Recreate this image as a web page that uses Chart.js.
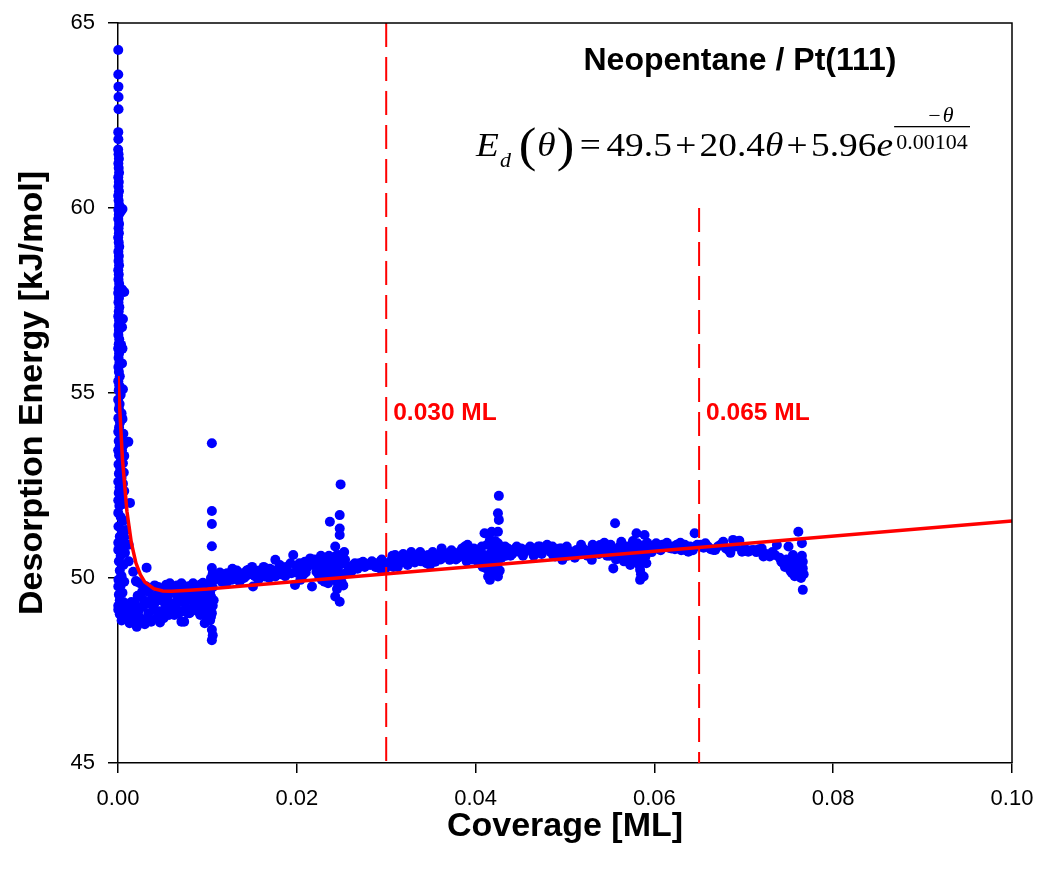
<!DOCTYPE html>
<html>
<head>
<meta charset="utf-8">
<title>Neopentane / Pt(111) desorption energy</title>
<script src="https://cdn.jsdelivr.net/npm/chart.js@4.4.1/dist/chart.umd.min.js"></script>
<style>
  html, body { margin: 0; padding: 0; background: #ffffff; }
  #wrap { width: 1039px; height: 875px; position: relative; background: #ffffff; }
  canvas { display: block; }
</style>
</head>
<body>
<div id="wrap"><canvas id="chart" width="1039" height="875"></canvas></div>
<script>
// ---- Axis ticks ----
const xTicks = [0, 0.02, 0.04, 0.06, 0.08, 0.10];
const xTickLabels = ['0.00', '0.02', '0.04', '0.06', '0.08', '0.10'];
const yTicks = [45, 50, 55, 60, 65];
const yTickLabels = ['45', '50', '55', '60', '65'];

// ---- Fitted curve E_d(θ) = 49.5 + 20.4θ + 5.96·exp(−θ/0.00104) ----
const fitCoverage = [0, 0.0005, 0.001, 0.0015, 0.002, 0.0025, 0.003, 0.004, 0.005, 0.006, 0.008, 0.010, 0.100];
const fitEnergy   = [55.46, 53.20, 51.80, 50.94, 50.41, 50.09, 49.89, 49.71, 49.65, 49.64, 49.67, 49.70, 51.54];

// ---- Coverage markers ----
const markerCoverage = [0.030, 0.065];
const markerTopEnergy = [65, 60];
const markerLabels = ['0.030 ML', '0.065 ML'];

// ---- Measured points [coverage (ML), desorption energy (kJ/mol)] ----
const pointsNearZero = [
  [0.00003,64.27],[0.00003,63.61],[0.00005,63.28],[0.00006,63.00],[0.00006,62.67],[0.00003,62.05],[0.00004,61.86],
  [0.00002,61.58],[0.00006,61.45],[0.00010,61.33],[0.00004,61.20],[0.00008,61.08],[0.00012,60.95],[0.00003,60.83],
  [0.00009,60.70],[0.00005,60.58],[0.00011,60.45],[0.00002,60.33],[0.00007,60.20],[0.00013,60.08],[0.00050,59.97],
  [0.00004,59.95],[0.00030,59.90],[0.00009,59.82],[0.00003,59.70],[0.00012,59.57],[0.00006,59.45],[0.00010,59.32],
  [0.00002,59.20],[0.00008,59.07],[0.00014,58.95],[0.00004,58.82],[0.00010,58.70],[0.00006,58.57],[0.00012,58.45],
  [0.00003,58.32],[0.00009,58.20],[0.00005,58.07],[0.00013,57.95],[0.00070,57.73],[0.00045,57.80],[0.00007,57.82],
  [0.00002,57.70],[0.00011,57.57],[0.00005,57.45],[0.00015,57.32],[0.00008,57.20],[0.00003,57.07],[0.00055,57.00],
  [0.00012,56.95],[0.00045,56.78],[0.00006,56.82],[0.00010,56.70],[0.00004,56.57],[0.00014,56.45],[0.00035,56.30],
  [0.00050,56.20],[0.00008,56.32],[0.00002,56.20],[0.00012,56.07],[0.00006,55.95],[0.00045,55.80],[0.00016,55.82],
  [0.00004,55.70],[0.00010,55.57],[0.00020,55.45],[0.00003,55.32],[0.00014,55.20],[0.00055,55.10],[0.00008,55.07],
  [0.00030,54.95],[0.00002,54.82],[0.00018,54.70],[0.00010,54.57],[0.00040,54.45],[0.00004,54.32],[0.00050,54.30],
  [0.00022,54.20],[0.00012,54.07],[0.00060,53.90],[0.00003,53.95],[0.00030,53.82],[0.00116,53.68],[0.00008,53.70],
  [0.00065,53.60],[0.00020,53.57],[0.00045,53.45],[0.00002,53.45],[0.00070,53.30],[0.00012,53.32],[0.00035,53.20],
  [0.00055,53.10],[0.00006,53.07],[0.00025,52.95],[0.00065,52.85],[0.00010,52.82],[0.00040,52.70],[0.00003,52.60],
  [0.00055,52.55],[0.00018,52.45],[0.00070,52.35],[0.00008,52.30],[0.00030,52.20],[0.00003,52.10],[0.00134,52.03],
  [0.00060,52.00],[0.00015,51.95],[0.00003,51.76],[0.00030,51.65],[0.00060,51.55],[0.00005,51.39],[0.00040,51.30],
  [0.00090,51.30],[0.00020,51.12],[0.00070,51.10],[0.00003,50.95],[0.00050,50.90],[0.00120,50.90],[0.00003,50.76],
  [0.00078,50.68],[0.00030,50.60],[0.00010,50.45],[0.00060,50.35],[0.00020,50.20],[0.00040,50.05],[0.00005,49.95],
  [0.00070,49.90],[0.00030,49.80],[0.00003,49.77],[0.00050,49.60],[0.00010,49.55],[0.00020,49.40],[0.00060,49.35],
  [0.00003,49.25],[0.00040,49.20],[0.00003,49.14],[0.00020,49.02],[0.00080,49.15],[0.00100,49.30],[0.00130,48.78],
  [0.00040,48.85],[0.00070,49.20],[0.00110,48.90],[0.00150,49.35]
];

const pointsMinimum = [
  [0.0017,50.17],[0.0021,49.90],[0.0019,49.32],[0.0012,50.45],[0.0032,50.28],
  [0.0020,49.92],[0.0025,49.85],[0.0031,49.78],[0.0036,49.72],[0.0041,49.80],[0.0045,49.76],[0.0050,49.70],
  [0.0054,49.82],[0.0058,49.86],[0.0062,49.72],[0.0066,49.80],[0.0071,49.86],[0.0075,49.70],[0.0079,49.78],
  [0.0084,49.86],[0.0088,49.74],[0.0092,49.82],[0.0095,49.87],[0.0099,49.78],[0.0102,49.85],[0.0107,49.95],
  [0.0022,49.52],[0.0027,49.63],[0.0034,49.63],[0.0038,49.45],[0.0044,49.55],[0.0048,49.40],[0.0051,49.40],
  [0.0056,49.52],[0.0060,49.32],[0.0064,49.58],[0.0067,49.45],[0.0072,49.35],[0.0077,49.50],[0.0081,49.40],
  [0.0086,49.22],[0.0090,49.55],[0.0093,49.45],[0.0095,49.32],[0.0099,49.60],[0.0101,49.38],[0.0104,49.50],
  [0.0106,49.25],
  [0.0006,48.91],[0.0009,49.00],[0.0017,48.85],[0.0021,48.68],[0.0024,48.80],[0.0027,49.22],[0.0030,48.75],
  [0.0034,49.05],[0.0037,48.82],[0.0041,49.14],[0.0044,48.95],[0.0047,48.80],[0.0051,48.91],[0.0055,49.10],
  [0.0063,49.00],[0.0071,49.09],[0.0071,48.82],[0.0074,48.82],[0.0080,49.05],[0.0086,49.22],[0.0092,49.00],
  [0.0097,48.78],[0.0100,49.10],[0.0105,49.05],[0.0105,48.60],[0.0105,48.32],[0.0106,48.45],[0.0103,48.85],
  [0.0014,49.20],[0.0016,49.05],[0.0019,48.95],[0.0023,49.10],[0.0026,48.90],[0.0029,49.40],[0.0032,49.30],
  [0.0035,48.90],[0.0039,49.25],[0.0042,49.35],[0.0046,49.10],[0.0049,49.60],[0.0053,49.25],[0.0057,49.00],
  [0.0059,49.62],[0.0061,49.15],[0.0065,49.25],[0.0068,49.05],[0.0069,49.62],[0.0073,49.58],[0.0076,49.20],
  [0.0078,49.05],[0.0082,49.60],[0.0083,49.15],[0.0085,49.45],[0.0088,49.30],[0.0089,49.10],[0.0091,49.70],
  [0.0094,49.15],[0.0096,49.55],[0.0098,49.00],[0.0100,49.70],[0.0102,49.20],[0.0103,49.60],[0.0104,48.95],
  [0.0106,49.75],[0.0107,49.40],
  [0.0105,53.64],[0.0105,51.81],[0.0105,51.46],[0.0105,50.86],[0.0105,50.27],[0.0106,50.13],[0.0104,50.00]
];

const pointsLow = [
  [0.0112,50.00],[0.0116,49.90],[0.0119,50.10],[0.0122,50.13],[0.0125,49.98],[0.0127,49.95],[0.0130,50.10],
  [0.0133,50.20],[0.0135,50.04],[0.0138,50.12],[0.0141,50.00],[0.0144,50.20],[0.0146,50.22],[0.0149,50.10],
  [0.0151,49.77],[0.0153,50.05],[0.0155,50.13],[0.0158,50.20],[0.0161,50.10],[0.0164,50.04],[0.0167,50.15],
  [0.0170,50.25],[0.0173,50.10],[0.0176,50.49],[0.0176,50.04],[0.0179,50.20],[0.0182,50.10],[0.0185,50.22],
  [0.0188,50.30],[0.0191,50.15],[0.0194,50.13],[0.0196,50.62],[0.0198,49.81],[0.0200,50.30],[0.0203,50.40],
  [0.0205,50.20],[0.0207,50.08],[0.0209,50.44],[0.0212,50.30],[0.0215,50.53],[0.0217,49.77],[0.0219,50.35],
  [0.0222,50.17],[0.0225,50.05],[0.0226,50.35],[0.0228,49.95],[0.0229,50.50],[0.0230,50.20],[0.0231,49.90],
  [0.0232,50.31],[0.0234,50.10],[0.0235,49.86],[0.0236,50.60],[0.0237,51.52],[0.0238,50.40],[0.0239,50.25],
  [0.0240,50.00],[0.0241,50.44],[0.0242,49.95],[0.0243,50.85],[0.0243,49.50],[0.0244,50.22],[0.0244,50.60],
  [0.0245,49.70],[0.0246,50.30],[0.0246,49.85],[0.0247,50.62],[0.0247,50.15],[0.0248,51.16],[0.0248,51.34],
  [0.0248,51.70],[0.0248,49.36],[0.0249,52.53],[0.0249,50.04],[0.0250,49.90],[0.0250,50.38],[0.0251,50.50],
  [0.0252,50.10],[0.0252,49.80],[0.0253,50.70],[0.0254,50.49],[0.0258,50.30],[0.0261,50.17],[0.0265,50.40],
  [0.0270,50.40],[0.0274,50.44],[0.0278,50.38],[0.0282,50.35],[0.0286,50.40],[0.0290,50.30],[0.0293,50.44],
  [0.0293,50.26],[0.0297,50.35],[0.0301,50.40],
  [0.0114,50.15],[0.0121,49.85],[0.0128,50.25],[0.0136,49.90],[0.0143,50.05],[0.0150,50.30],[0.0157,49.95],
  [0.0163,50.30],[0.0169,50.00],[0.0175,50.20],[0.0181,50.35],[0.0187,50.05],[0.0193,50.40],[0.0199,50.15],
  [0.0204,49.95],[0.0210,50.15],[0.0214,50.40],[0.0220,50.50],[0.0224,50.25],[0.0227,50.60],[0.0233,50.05],
  [0.0256,50.15],[0.0263,50.35],[0.0268,50.25],[0.0276,50.30],[0.0284,50.45],[0.0288,50.30],[0.0295,50.50],
  [0.0299,50.25]
];

const pointsMid = [
  [0.0304,50.35],[0.0306,50.49],[0.0308,50.30],[0.0310,50.62],[0.0312,50.40],[0.0315,50.40],[0.0318,50.50],
  [0.0321,50.44],[0.0324,50.35],[0.0326,50.55],[0.0329,50.53],[0.0332,50.42],[0.0336,50.58],[0.0339,50.45],
  [0.0342,50.49],[0.0345,50.40],[0.0347,50.62],[0.0350,50.50],[0.0353,50.58],[0.0355,50.44],[0.0358,50.62],
  [0.0361,50.50],[0.0363,50.66],[0.0366,50.67],[0.0369,50.55],[0.0371,50.49],[0.0374,50.60],[0.0377,50.67],
  [0.0380,50.55],[0.0383,50.72],[0.0386,50.58],[0.0388,50.85],[0.0390,50.45],[0.0392,50.65],[0.0394,50.71],
  [0.0396,50.50],[0.0399,50.62],[0.0401,50.76],[0.0403,50.40],[0.0405,50.60],[0.0407,50.85],[0.0408,50.30],
  [0.0410,51.21],[0.0410,50.62],[0.0411,50.45],[0.0412,50.26],[0.0413,50.90],[0.0414,50.04],[0.0415,50.50],
  [0.0416,51.03],[0.0416,49.95],[0.0417,50.35],[0.0418,51.25],[0.0418,50.71],[0.0419,50.17],[0.0420,50.80],
  [0.0421,50.53],[0.0422,51.00],[0.0422,50.10],[0.0423,50.60],[0.0424,50.30],[0.0425,51.25],[0.0425,50.94],
  [0.0425,50.67],[0.0425,50.44],[0.0425,50.04],[0.0425,51.75],[0.0426,51.57],[0.0426,52.22],[0.0427,50.20],
  [0.0428,50.85],[0.0429,50.55],[0.0431,50.71],[0.0434,50.60],[0.0436,50.80],[0.0438,50.76],[0.0441,50.65],
  [0.0444,50.75],[0.0448,50.71],[0.0451,50.80],[0.0455,50.70],[0.0459,50.78],[0.0463,50.76],[0.0467,50.70],
  [0.0470,50.85],[0.0472,50.85],[0.0476,50.75],[0.0478,50.82],[0.0481,50.80],[0.0484,50.70],[0.0487,50.60],
  [0.0489,50.58],[0.0492,50.75],[0.0494,50.80],[0.0497,50.65],
  [0.0307,50.60],[0.0313,50.30],[0.0319,50.65],[0.0323,50.50],[0.0328,50.70],[0.0334,50.50],[0.0338,50.70],
  [0.0344,50.60],[0.0349,50.35],[0.0352,50.70],[0.0357,50.50],[0.0362,50.80],[0.0368,50.65],[0.0373,50.75],
  [0.0378,50.50],[0.0382,50.60],[0.0385,50.80],[0.0391,50.90],[0.0395,50.55],[0.0398,50.80],[0.0402,50.65],
  [0.0406,50.50],[0.0433,50.85],[0.0439,50.60],[0.0446,50.85],[0.0453,50.60],[0.0461,50.85],[0.0465,50.60],
  [0.0474,50.65],[0.0480,50.90],[0.0486,50.85],[0.0491,50.60]
];

const pointsHigh = [
  [0.0496,50.80],[0.0497,50.49],[0.0500,50.70],[0.0503,50.60],[0.0506,50.71],[0.0509,50.65],[0.0513,50.76],
  [0.0516,50.68],[0.0520,50.80],[0.0523,50.70],[0.0526,50.65],[0.0528,50.76],[0.0530,50.49],[0.0533,50.72],
  [0.0536,50.80],[0.0539,50.89],[0.0542,50.75],[0.0545,50.70],[0.0548,50.80],[0.0550,50.60],[0.0552,50.75],
  [0.0554,50.26],[0.0556,51.48],[0.0557,50.50],[0.0558,50.70],[0.0560,50.53],[0.0561,50.85],[0.0563,50.98],
  [0.0565,50.60],[0.0567,50.75],[0.0569,50.85],[0.0570,50.45],[0.0572,50.62],[0.0573,50.35],[0.0575,50.90],
  [0.0577,50.70],[0.0578,50.50],[0.0580,51.21],[0.0581,50.94],[0.0582,50.71],[0.0583,50.53],[0.0583,50.35],
  [0.0584,50.22],[0.0584,49.95],[0.0585,50.10],[0.0586,50.80],[0.0587,50.60],[0.0588,50.04],[0.0589,51.16],
  [0.0589,50.89],[0.0590,50.58],[0.0591,50.40],[0.0593,50.75],[0.0596,50.85],[0.0599,50.80],[0.0602,50.94],
  [0.0605,50.85],[0.0609,50.90],[0.0612,50.89],[0.0616,50.82],[0.0619,50.80],[0.0623,50.78],[0.0627,50.85],
  [0.0630,50.75],[0.0632,50.80],[0.0635,50.75],[0.0638,50.71],[0.0641,50.80],[0.0645,51.21],[0.0646,50.85],
  [0.0648,50.90],
  [0.0502,50.85],[0.0511,50.55],[0.0518,50.90],[0.0525,50.60],[0.0531,50.90],[0.0538,50.65],[0.0544,50.95],
  [0.0547,50.60],[0.0551,50.90],[0.0566,50.45],[0.0571,50.80],[0.0576,51.00],[0.0592,50.95],[0.0597,50.70],
  [0.0603,50.80],[0.0607,50.75],[0.0614,50.95],[0.0621,50.85],[0.0625,50.90],[0.0629,50.95],[0.0634,50.90],
  [0.0640,50.85],[0.0643,50.75],
  [0.0652,50.90],[0.0655,50.82],[0.0657,50.94],[0.0660,50.85],[0.0663,50.78],[0.0666,50.76],[0.0668,50.76],
  [0.0671,50.85],[0.0674,50.90],[0.0677,50.98],[0.0680,50.80],[0.0683,50.75],[0.0685,50.68],[0.0688,51.03],
  [0.0691,50.85],[0.0695,51.01],[0.0698,50.71],[0.0701,50.80],[0.0705,50.71],[0.0708,50.75],[0.0711,50.76],
  [0.0714,50.70],[0.0717,50.78],[0.0720,50.80],[0.0722,50.58],[0.0725,50.65],[0.0729,50.58],[0.0732,50.70],
  [0.0735,50.62],[0.0737,50.89],[0.0740,50.55],[0.0742,50.44],[0.0744,50.40],[0.0746,50.30],[0.0748,50.50],
  [0.0750,50.85],[0.0750,50.31],[0.0752,50.20],[0.0754,50.13],[0.0755,50.62],[0.0756,50.40],[0.0757,50.05],
  [0.0758,50.25],[0.0760,50.50],[0.0761,51.25],[0.0762,50.15],[0.0763,50.35],[0.0764,50.00],[0.0765,50.94],
  [0.0765,50.60],[0.0766,50.44],[0.0766,50.26],[0.0766,49.68],[0.0767,50.10]
];

// ---- Fonts and colours ----
const SANS = '"Liberation Sans", Arial, Helvetica, sans-serif';
const SERIF = '"Liberation Serif", "Times New Roman", Times, serif';
const BLUE = '#0000ff';
const RED = '#ff0000';
const markerLabelEnergy = 54.45;

const measured = [].concat(pointsNearZero, pointsMinimum, pointsLow, pointsMid, pointsHigh)
  .map(p => ({ x: p[0], y: p[1] }));

const markerDatasets = markerCoverage.map((c, i) => ({
  label: markerLabels[i],
  data: [{ x: c, y: markerTopEnergy[i] }, { x: c, y: 45 }],
  showLine: true,
  borderColor: RED,
  borderWidth: 2,
  borderDash: [24, 10],
  pointRadius: 0,
  fill: false,
  order: 1
}));

// Plot frame on the top and right sides
const framePlugin = {
  id: 'frame',
  afterDraw(chart) {
    const { ctx, chartArea: a } = chart;
    ctx.save();
    ctx.strokeStyle = '#000';
    ctx.lineWidth = 1.5;
    ctx.beginPath();
    ctx.moveTo(a.left, a.top);
    ctx.lineTo(a.right, a.top);
    ctx.lineTo(a.right, a.bottom);
    ctx.stroke();
    ctx.restore();
  }
};

// Fit equation, laid out piece by piece and fitted between left and right
function drawEquation(ctx, left, right, baseline) {
  const big = 34, sub = 20, paren = 48, exp = 20;
  const pieces = [
    { t: 'E', f: 'italic ' + big + 'px ' + SERIF, dy: 0, gap: 0 },
    { t: 'd', f: 'italic ' + sub + 'px ' + SERIF, dy: 11, gap: 1 },
    { t: '(', f: paren + 'px ' + SERIF, dy: 5, gap: 7 },
    { t: 'θ', f: 'italic ' + big + 'px ' + SERIF, dy: 0, gap: 1 },
    { t: ')', f: paren + 'px ' + SERIF, dy: 5, gap: 1 },
    { t: '=', f: big + 'px ' + SERIF, dy: 0, gap: 5 },
    { t: '49.5', f: big + 'px ' + SERIF, dy: 0, gap: 5 },
    { t: '+', f: big + 'px ' + SERIF, dy: 0, gap: 3 },
    { t: '20.4', f: big + 'px ' + SERIF, dy: 0, gap: 3 },
    { t: 'θ', f: 'italic ' + big + 'px ' + SERIF, dy: 0, gap: 0 },
    { t: '+', f: big + 'px ' + SERIF, dy: 0, gap: 3 },
    { t: '5.96', f: big + 'px ' + SERIF, dy: 0, gap: 3 },
    { t: 'e', f: 'italic ' + big + 'px ' + SERIF, dy: 0, gap: 0 }
  ];
  ctx.save();
  let w = 0;
  pieces.forEach(p => { ctx.font = p.f; p.x = w + p.gap; w = p.x + ctx.measureText(p.t).width; });
  ctx.font = exp + 'px ' + SERIF;
  const denW = ctx.measureText('0.00104').width;
  const fracX = w + 1;
  const total = fracX + denW + 4;
  ctx.translate(left, baseline);
  ctx.scale((right - left) / total, 1);
  ctx.fillStyle = '#000';
  ctx.textBaseline = 'alphabetic';
  ctx.textAlign = 'left';
  pieces.forEach(p => { ctx.font = p.f; ctx.fillText(p.t, p.x, p.dy); });
  // exponent written as a fraction
  const barW = denW + 4;
  ctx.fillRect(fracX, -30, barW, 1.3);
  ctx.font = exp + 'px ' + SERIF;
  ctx.fillText('0.00104', fracX + 2, -7);
  ctx.font = 'italic ' + exp + 'px ' + SERIF;
  const thW = ctx.measureText('θ').width;
  ctx.font = exp + 'px ' + SERIF;
  const miW = ctx.measureText('−').width;
  const numX = fracX + (barW - (thW + miW + 2)) / 2 + 8;
  ctx.fillText('−', numX, -34);
  ctx.font = 'italic ' + exp + 'px ' + SERIF;
  ctx.fillText('θ', numX + miW + 2, -34);
  ctx.restore();
}

// Title, equation and marker captions
const textPlugin = {
  id: 'annotations',
  afterDraw(chart) {
    const { ctx } = chart;
    const xs = chart.scales.x, ys = chart.scales.y;
    ctx.save();
    ctx.fillStyle = '#000';
    ctx.font = 'bold 32px ' + SANS;
    ctx.textAlign = 'center';
    ctx.textBaseline = 'alphabetic';
    ctx.fillText('Neopentane / Pt(111)', 740, 70);
    drawEquation(ctx, 476, 970, 156);
    ctx.fillStyle = RED;
    ctx.font = 'bold 24.5px ' + SANS;
    ctx.textAlign = 'left';
    ctx.textBaseline = 'middle';
    markerCoverage.forEach((c, i) => {
      ctx.fillText(markerLabels[i], xs.getPixelForValue(c) + 7, ys.getPixelForValue(markerLabelEnergy));
    });
    ctx.restore();
  }
};

new Chart(document.getElementById('chart'), {
  type: 'scatter',
  data: {
    datasets: [
      {
        label: 'Fit',
        data: fitCoverage.map((c, i) => ({ x: c, y: fitEnergy[i] })),
        showLine: true,
        borderColor: RED,
        borderWidth: 3.5,
        pointRadius: 0,
        tension: 0,
        fill: false,
        order: 0
      },
      ...markerDatasets,
      {
        label: 'Neopentane / Pt(111)',
        data: measured,
        pointRadius: 5,
        pointBackgroundColor: BLUE,
        pointBorderWidth: 0,
        pointBorderColor: BLUE,
        showLine: false,
        clip: false,
        order: 3
      }
    ]
  },
  options: {
    responsive: false,
    animation: false,
    devicePixelRatio: 1,
    events: [],
    layout: { padding: { top: 23, right: 27, left: 0, bottom: 0 } },
    plugins: { legend: { display: false }, tooltip: { enabled: false }, title: { display: false } },
    scales: {
      x: {
        type: 'linear',
        position: 'bottom',
        min: 0,
        max: 0.1,
        afterBuildTicks: s => { s.ticks = xTicks.map(v => ({ value: v })); },
        afterFit: s => { s.height = 112; s.paddingLeft = 0; s.paddingRight = 0; },
        ticks: {
          callback: (v, i) => xTickLabels[i],
          font: { family: SANS, size: 22 },
          color: '#000',
          padding: 13,
          maxRotation: 0,
          autoSkip: false
        },
        grid: { drawOnChartArea: false, drawTicks: true, tickLength: 10, color: '#000', lineWidth: 1.5 },
        border: { display: true, color: '#000', width: 1.5 },
        title: {
          display: true,
          text: 'Coverage [ML]',
          color: '#000',
          font: { family: SANS, size: 34, weight: 'bold' },
          padding: { top: 0, bottom: 28 }
        }
      },
      y: {
        type: 'linear',
        position: 'left',
        min: 45,
        max: 65,
        afterBuildTicks: s => { s.ticks = yTicks.map(v => ({ value: v })); },
        afterFit: s => { s.width = 118; s.paddingTop = 0; s.paddingBottom = 0; },
        ticks: {
          callback: (v, i) => yTickLabels[i],
          font: { family: SANS, size: 22 },
          color: '#000',
          padding: 13
        },
        grid: { drawOnChartArea: false, drawTicks: true, tickLength: 10, color: '#000', lineWidth: 1.5 },
        border: { display: true, color: '#000', width: 1.5 },
        title: {
          display: true,
          text: 'Desorption Energy [kJ/mol]',
          color: '#000',
          font: { family: SANS, size: 34, weight: 'bold' },
          padding: { top: 12, bottom: 0 }
        }
      }
    }
  },
  plugins: [framePlugin, textPlugin]
});
</script>
</body>
</html>
